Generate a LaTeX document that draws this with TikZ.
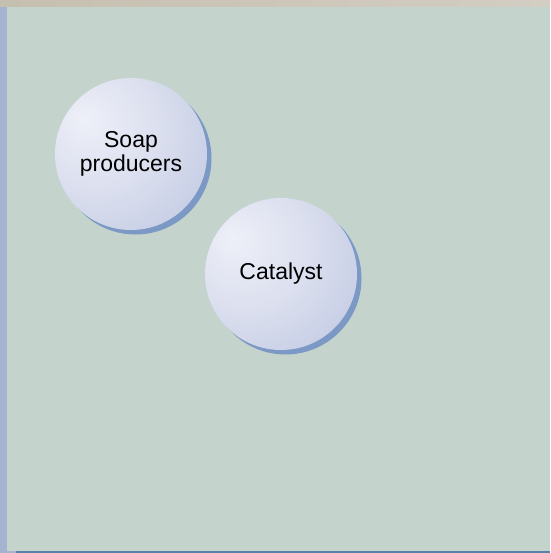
\documentclass[tikz,border=0pt]{standalone}
\usepackage{fontspec}
\setmainfont{Liberation Sans}
\usetikzlibrary{shadows}
\definecolor{bgteal}{HTML}{C4D4CD}
\definecolor{topband}{HTML}{C4BFAE}
\definecolor{topbandr}{HTML}{D3CEC3}
\definecolor{sidestrip}{HTML}{A4B3CF}
\definecolor{baseblue}{HTML}{5A82A8}
\definecolor{sphlight}{HTML}{EEF0F8}
\definecolor{sphmid}{HTML}{DCE0EF}
\definecolor{sphedge}{HTML}{B8C1DE}
\definecolor{sphshadow}{HTML}{7C98C4}
\pgfdeclareradialshading{spherelight}{\pgfpoint{-16bp}{12bp}}{color(0bp)=(sphlight); color(20bp)=(sphmid); color(50bp)=(sphedge); color(80bp)=(sphedge)}
\begin{document}
\begin{tikzpicture}[x=1pt,y=-1pt,font=\fontsize{23}{24}\selectfont,
    sphere/.style={circle,minimum size=152pt,inner sep=0pt,align=center,
      shading=spherelight,
      drop shadow={shadow xshift=4.5pt,shadow yshift=-4.5pt,fill=sphshadow,opacity=1}}]
    \fill[bgteal] (0,0) rectangle (550,553);
    \shade[left color=topband,right color=topbandr] (0,0) rectangle (550,7);
    \fill[sidestrip] (0,7) rectangle (7,553);
    \fill[sidestrip] (0,551) rectangle (16,553);
    \fill[baseblue] (16,551) rectangle (550,553);
    % the two spheres
    \node[sphere] (soap) at (131,154) {Soap\\producers};
    \node[sphere] (catalyst) at (281,274) {Catalyst};
\end{tikzpicture}
\end{document}
